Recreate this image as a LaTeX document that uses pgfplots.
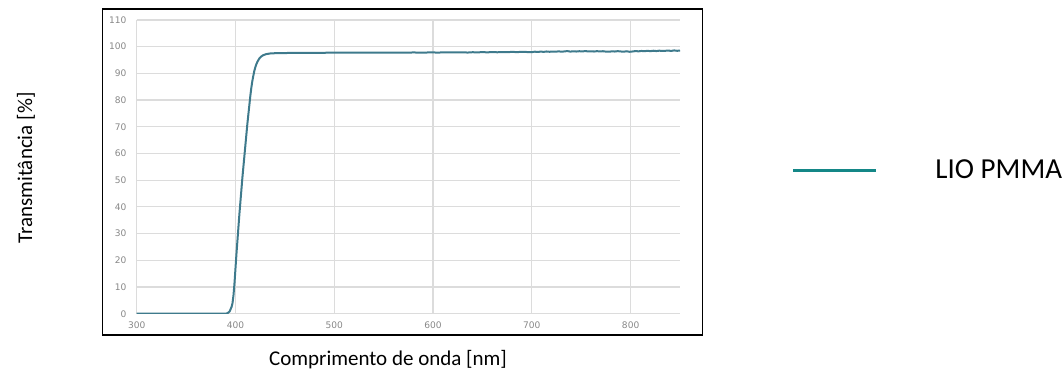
\documentclass[border=0pt]{standalone}
\usepackage{pgfplots}
\pgfplotsset{compat=1.18}
\usepackage{fontspec}
\setmainfont{Carlito}
\newfontfamily\dejavu{DejaVu Sans}
\definecolor{curve}{RGB}{62,122,140}
\definecolor{legteal}{RGB}{20,135,135}
\definecolor{gridc}{RGB}{220,220,220}
\definecolor{tickc}{RGB}{135,135,135}
\begin{document}
\begin{tikzpicture}[x=0.75pt,y=0.75pt]
\useasboundingbox (0,0) rectangle (1063,371);
\draw[line width=1.1pt] (102.7,36) rectangle (702.3,362);
\begin{axis}[
  at={(102.525pt,42.975pt)}, anchor=south west,
  scale only axis, width=407.5pt, height=220.3pt,
  xmin=300, xmax=850, ymin=0, ymax=110,
  xtick={300,400,...,800}, ytick={0,10,...,110},
  axis line style={draw=none},
  major tick length=0pt,
  grid=major, major grid style={gridc, line width=0.9pt},
  tick label style={font=\dejavu\fontsize{6.8}{8}\selectfont, text=tickc, inner sep=0pt},
  xticklabel style={yshift=-5.5pt},
  yticklabel style={xshift=-7.5pt},
  /pgf/number format/assume math mode=true,
  xlabel={Comprimento de onda [nm]},
  ylabel={Transmitância [\%]},
  label style={font=\fontsize{15.75}{19}\selectfont},
  xlabel style={at={(axis description cs:0.4626,-0.1755)}, anchor=base, inner sep=0pt},
  ylabel style={at={(axis description cs:-0.2038,0.496)}, anchor=center, inner sep=0pt},
  legend style={at={(axis description cs:1.2056,0.488)}, anchor=west, draw=none, fill=none,
    inner sep=0pt, outer sep=0pt, nodes={inner sep=0pt, font=\fontsize{21.75}{26}\selectfont}},
  legend image code/.code={\draw[legteal, line width=2pt] (0pt,0pt) -- (62.3pt,0pt);},
]
\addplot[curve, line width=1.5pt] coordinates {
(300,0) (390,0) (392,0.2) (394,0.8) (396,2.5) (397,4) (398,7) (399,11.5) (400,17)
(401,22.5) (402,27.5) (403,32.5) (404,37.5) (405,42) (406,46.5) (407,51) (408,55)
(409,59) (410,63) (411,67) (412,71) (413,74.5) (414,78) (415,81.5) (416,84.5)
(417,87) (418,89) (419,90.8) (420,92.2) (421,93.3) (422,94.2) (424,95.5) (426,96.3)
(428,96.8) (431,97.2) (435,97.45) (440,97.55) (450,97.62) (460,97.66) (470,97.68)
(480,97.7) (490,97.72)
(500,97.74) (510,97.73) (520,97.76) (530,97.75) (540,97.78) (550,97.77) (560,97.8)
(570,97.79) (580,97.82) (590,97.8) (600,97.84) (605,97.78) (610,97.86) (615,97.82)
(620,97.9) (625,97.85) (630,97.88) (635,97.8) (640,97.92) (645,97.87) (650,97.95)
(655,97.88) (660,97.97) (665,97.9) (670,97.98) (675,97.93) (680,98.05) (685,97.96)
(690,98.08) (695,98.0) (700,97.95) (703,98.12) (706,98.02) (709,98.15) (712,98.05)
(715,98.2) (718,98.08) (721,98.18) (724,98.1) (727,98.25) (730,98.12) (733,98.22)
(736,98.35) (739,98.15) (742,98.28) (745,98.18) (748,98.3) (751,98.2) (754,98.35)
(757,98.22) (760,98.28) (763,98.18) (766,98.32) (769,98.2) (772,98.3) (775,98.15)
(778,98.1) (781,98.25) (784,98.18) (787,98.32) (790,98.2) (793,98.12) (796,98.28)
(799,98.08) (802,98.2) (805,98.35) (808,98.25) (811,98.4) (814,98.3) (817,98.45)
(820,98.32) (823,98.48) (826,98.35) (829,98.5) (832,98.38) (835,98.45) (838,98.55)
(841,98.4) (844,98.6) (847,98.45) (850,98.55)
};
\addlegendentry{\hspace*{43.5pt}LIO PMMA}
\end{axis}
\end{tikzpicture}
\end{document}
